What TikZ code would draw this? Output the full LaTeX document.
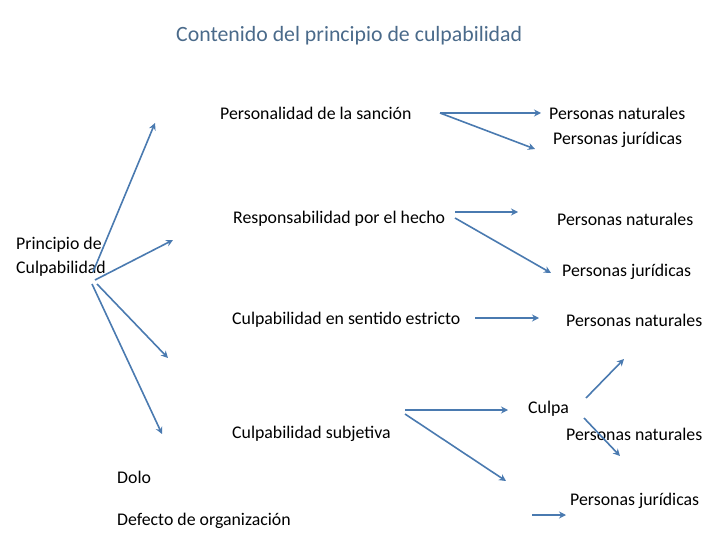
\documentclass[tikz,border=0pt]{standalone}
\usepackage{fontspec}
\setmainfont{Carlito}
\usetikzlibrary{arrows.meta}
\begin{document}
\begin{tikzpicture}[x=1pt,y=-1pt,
  lbl/.style={font=\fontsize{17.8}{24}\selectfont,inner sep=0pt,anchor=west},
  arr/.style={draw=arrc,line width=1.6pt,-{Stealth[length=7pt,width=7pt]}}]
\definecolor{arrc}{HTML}{4A7AB0}
\definecolor{titc}{HTML}{4A6A8A}
\useasboundingbox (0,0) rectangle (720,540);
\node[lbl,text=titc,font=\fontsize{21.8}{24}\selectfont] (t) at (176,36) {Contenido del principio de culpabilidad};
\node[lbl] (ps) at (220,113) {Personalidad de la sanción};
\node[lbl] (pn1) at (549,113) {Personas naturales};
\node[lbl] (pj1) at (553,140) {Personas jurídicas};
\node[lbl] (rh) at (233,219) {Responsabilidad por el hecho};
\node[lbl] (pn2) at (557,219) {Personas naturales};
\node[lbl,align=left] (pc) at (16,257) {Principio de\\Culpabilidad};
\node[lbl] (pj2) at (562,272) {Personas jurídicas};
\node[lbl] (ce) at (232,320) {Culpabilidad en sentido estricto};
\node[lbl] (pn3) at (566,320) {Personas naturales};
\node[lbl] (cu) at (528,409) {Culpa};
\node[lbl] (cs) at (232,434) {Culpabilidad subjetiva};
\node[lbl] (pn4) at (566,434) {Personas naturales};
\node[lbl] (do) at (117,477) {Dolo};
\node[lbl] (pj3) at (570,501) {Personas jurídicas};
\node[lbl] (dd) at (117,521) {Defecto de organización};
\coordinate (o1) at (93,272); \coordinate (e1) at (155,123);
\coordinate (o2) at (95,280); \coordinate (e2) at (173,240);
\coordinate (o3) at (97,284); \coordinate (e3) at (168,358);
\coordinate (o4) at (92,284); \coordinate (e4) at (162,434);
\draw[arr] (o1) -- (e1);
\draw[arr] (o2) -- (e2);
\draw[arr] (o3) -- (e3);
\draw[arr] (o4) -- (e4);
\coordinate (a1) at (440,113); \coordinate (b1) at (541,113); \coordinate (b2) at (535,149);
\draw[arr] (a1) -- (b1); \draw[arr] (a1) -- (b2);
\coordinate (a2) at (455,212); \coordinate (c1) at (518,212);
\coordinate (a3) at (455,218); \coordinate (c2) at (551,273);
\draw[arr] (a2) -- (c1); \draw[arr] (a3) -- (c2);
\coordinate (a4) at (475,318); \coordinate (d1) at (539,318);
\draw[arr] (a4) -- (d1);
\coordinate (a5) at (405,410); \coordinate (f1) at (508,410);
\coordinate (a6) at (405,414); \coordinate (f2) at (506,481);
\draw[arr] (a5) -- (f1); \draw[arr] (a6) -- (f2);
\coordinate (g0) at (586,398); \coordinate (g1) at (624,359);
\draw[arr] (g0) -- (g1);
\coordinate (h0) at (584,418); \coordinate (h1) at (620,456);
\draw[arr] (h0) -- (h1);
\coordinate (k0) at (532,515); \coordinate (k1) at (566,515);
\draw[arr] (k0) -- (k1);
\end{tikzpicture}
\end{document}
